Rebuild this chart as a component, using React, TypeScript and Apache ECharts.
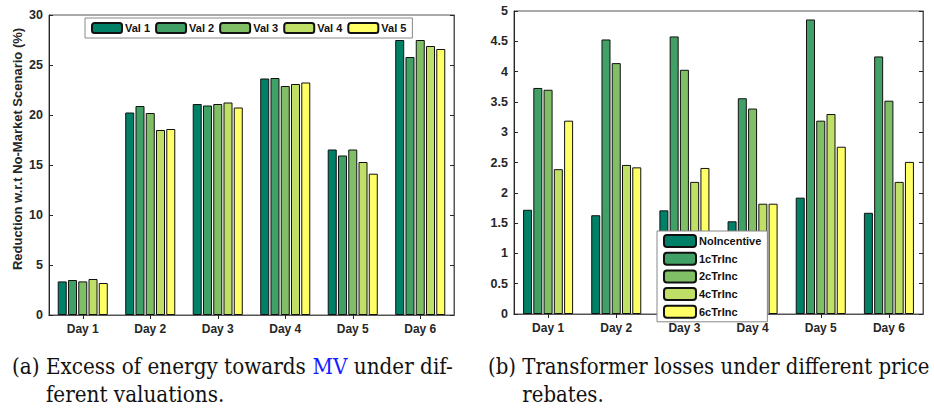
import React, { useEffect, useRef } from "react";
import * as echarts from "echarts";

const categories = ["Day 1", "Day 2", "Day 3", "Day 4", "Day 5", "Day 6"];

// Chart (a)
const valNames = ["Val 1", "Val 2", "Val 3", "Val 4", "Val 5"];
const val1 = [3.36, 20.25, 21.1, 23.65, 16.55, 27.5];
const val2 = [3.5, 20.9, 20.95, 23.7, 15.95, 25.8];
const val3 = [3.36, 20.2, 21.1, 22.9, 16.55, 27.5];
const val4 = [3.6, 18.5, 21.25, 23.1, 15.3, 26.9];
const val5 = [3.2, 18.6, 20.75, 23.25, 14.13, 26.6];
const yTicksA = { min: 0, max: 30, interval: 5 };

// Chart (b)
const incNames = ["NoIncentive", "1cTrInc", "2cTrInc", "4cTrInc", "6cTrInc"];
const noIncentive = [1.72, 1.63, 1.71, 1.53, 1.92, 1.67];
const inc1c = [3.73, 4.53, 4.58, 3.56, 4.86, 4.25];
const inc2c = [3.7, 4.14, 4.03, 3.39, 3.19, 3.52];
const inc4c = [2.39, 2.46, 2.18, 1.82, 3.3, 2.18];
const inc6c = [3.19, 2.42, 2.41, 1.82, 2.76, 2.51];
const yTicksB = { min: 0, max: 5, interval: 0.5 };

const yNameA = "Reduction w.r.t No-Market Scenario (%)";
const captionA1a = "(a) Excess of energy towards ";
const captionA1b = "MV";
const captionA1c = " under dif-";
const captionA2 = "ferent valuations.";
const captionB1 = "(b) Transformer losses under different price";
const captionB2 = "rebates.";

const colors = ["#008066", "#40A066", "#80BF66", "#BFDF66", "#FFFF66"];

const FONT = "'Liberation Sans', Arial, sans-serif";
const SERIF = "'DejaVu Serif', serif";
const AX = "#262626";

function measure(text: string, font: string) {
  const c = document.createElement("canvas").getContext("2d");
  if (!c) return text.length * 10;
  c.font = font;
  return c.measureText(text).width;
}

export default function App() {
  const ref = useRef<HTMLDivElement>(null);
  useEffect(() => {
    if (!ref.current) return;
    const chart = echarts.init(ref.current, undefined, { renderer: "svg" });

    const grids = [
      { left: 49, right: 480, top: 15, bottom: 94 },
      { left: 514, right: 11, top: 11, bottom: 95 },
    ].map((g) => ({ ...g, show: true, borderColor: "#555", borderWidth: 1, containLabel: false }));

    const xAxisBase = (gridIndex: number, position: "top" | "bottom", showLabel: boolean) => ({
      type: "category" as const,
      gridIndex,
      position,
      data: categories,
      boundaryGap: true,
      axisLine: { show: true, lineStyle: { color: position === "bottom" ? AX : "#555", width: 1 } },
      axisTick: { show: true, inside: true, alignWithLabel: true, length: 4, lineStyle: { color: AX } },
      axisLabel: {
        show: showLabel,
        fontFamily: FONT,
        fontWeight: "bold",
        fontSize: 12,
        color: AX,
        margin: 8,
      },
      splitLine: { show: false },
    });

    const yAxisBase = (
      gridIndex: number,
      position: "left" | "right",
      showLabel: boolean,
      t: { min: number; max: number; interval: number }
    ) => ({
      type: "value" as const,
      gridIndex,
      position,
      min: t.min,
      max: t.max,
      interval: t.interval,
      axisLine: { show: true, lineStyle: { color: position === "left" ? AX : "#555", width: 1 } },
      axisTick: { show: true, inside: true, length: 4, lineStyle: { color: AX } },
      axisLabel: {
        show: showLabel,
        fontFamily: FONT,
        fontWeight: "bold",
        fontSize: 12.5,
        color: AX,
        margin: 6,
      },
      splitLine: { show: false },
    });

    const dataA = [val1, val2, val3, val4, val5];
    const dataB = [noIncentive, inc1c, inc2c, inc4c, inc6c];

    const mkSeries = (names: string[], data: number[][], axisIdx: number) =>
      names.map((n, i) => ({
        type: "bar" as const,
        name: n,
        xAxisIndex: axisIdx,
        yAxisIndex: axisIdx,
        data: data[i],
        barWidth: 9,
        barGap: "14%",
        itemStyle: { color: colors[i], borderColor: "#111", borderWidth: 1 },
        emphasis: { disabled: true },
      }));

    const capFontSize = 22;
    const capFont = `${capFontSize}px 'DejaVu Serif'`;
    const a1Text = captionA1a + captionA1b + captionA1c;
    const scaleA = 441 / measure(a1Text, capFont);
    const scaleB = 442 / measure(captionB1, capFont);
    const prefixA = measure("(a) ", capFont) * scaleA;
    const prefixB = measure("(b) ", capFont) * scaleB;

    const capStyle = { fontFamily: SERIF, fontSize: capFontSize, fill: "#111" };
    const l1 = 366.5;
    const l2 = 394.5;

    chart.setOption({
      animation: false,
      backgroundColor: "#fff",
      textStyle: { fontFamily: FONT },
      grid: grids,
      xAxis: [
        xAxisBase(0, "bottom", true),
        xAxisBase(0, "top", false),
        xAxisBase(1, "bottom", true),
        xAxisBase(1, "top", false),
      ],
      yAxis: [
        yAxisBase(0, "left", true, yTicksA),
        yAxisBase(0, "right", false, yTicksA),
        yAxisBase(1, "left", true, yTicksB),
        yAxisBase(1, "right", false, yTicksB),
      ],
      legend: [
        {
          data: valNames,
          left: 85,
          top: 18,
          orient: "horizontal",
          itemWidth: 30,
          itemHeight: 10,
          itemGap: 5,
          padding: [4, 6, 4, 6],
          backgroundColor: "#fff",
          borderColor: "#888",
          borderWidth: 1,
          selectedMode: false,
          textStyle: { fontFamily: FONT, fontWeight: "bold", fontSize: 11, color: "#111", padding: [0, 0, 0, -2] },
        },
        {
          data: incNames,
          left: 657,
          top: 231,
          orient: "vertical",
          itemWidth: 32,
          itemHeight: 12,
          itemGap: 3.7,
          padding: [3, 6, 3, 6],
          backgroundColor: "#fff",
          borderColor: "#888",
          borderWidth: 1,
          selectedMode: false,
          textStyle: { fontFamily: FONT, fontWeight: "bold", fontSize: 11, color: "#111", padding: [0, 0, 0, -2] },
        },
      ],
      series: [...mkSeries(valNames, dataA, 0), ...mkSeries(incNames, dataB, 2)],
      graphic: [
        {
          type: "text",
          x: 17,
          y: 149,
          rotation: Math.PI / 2,
          style: {
            text: yNameA,
            fontFamily: FONT,
            fontWeight: "bold",
            fontSize: 13,
            fill: AX,
            align: "center",
            verticalAlign: "middle",
          },
        },
        {
          type: "text",
          x: 12,
          y: l1,
          scaleX: scaleA,
          style: {
            text: `{n|${captionA1a}}{m|${captionA1b}}{n|${captionA1c}}`,
            verticalAlign: "middle",
            rich: {
              n: { ...capStyle },
              m: { ...capStyle, fill: "#1a1aff" },
            },
          },
        },
        {
          type: "text",
          x: 12 + prefixA,
          y: l2,
          scaleX: scaleA,
          style: { ...capStyle, text: captionA2, verticalAlign: "middle" },
        },
        {
          type: "text",
          x: 488,
          y: l1,
          scaleX: scaleB,
          style: { ...capStyle, text: captionB1, verticalAlign: "middle" },
        },
        {
          type: "text",
          x: 488 + prefixB,
          y: l2,
          scaleX: scaleB,
          style: { ...capStyle, text: captionB2, verticalAlign: "middle" },
        },
      ],
    });

    return () => chart.dispose();
  }, []);

  return (
    <div
      ref={ref}
      style={{ position: "fixed", left: 0, top: 0, width: 934, height: 409, background: "#fff" }}
    />
  );
}
